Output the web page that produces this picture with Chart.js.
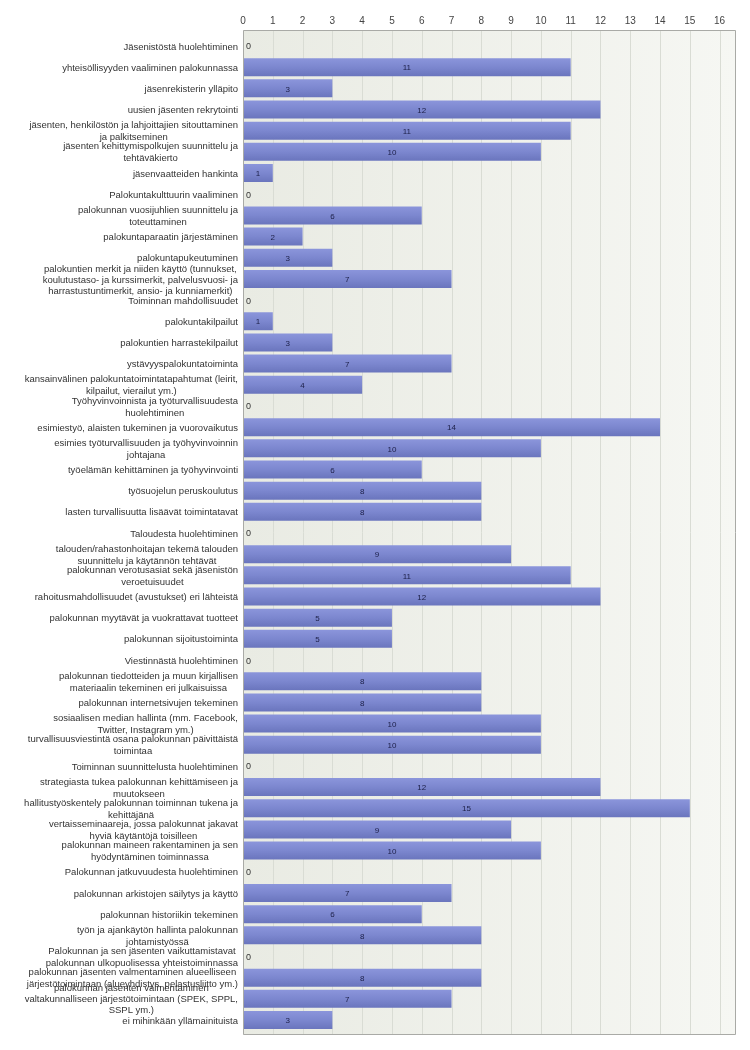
<!DOCTYPE html>
<html><head><meta charset="utf-8">
<script src="https://cdn.jsdelivr.net/npm/chart.js@4.4.1/dist/chart.umd.min.js"></script>
<style>html,body{margin:0;padding:0;background:#fff}#wrap{width:750px;height:1050px;position:relative}</style>
</head><body><div id="wrap"><canvas id="c"></canvas></div>
<script>
const categories = [
  "Jäsenistöstä huolehtiminen",
  "yhteisöllisyyden vaaliminen palokunnassa",
  "jäsenrekisterin ylläpito",
  "uusien jäsenten rekrytointi",
  ["jäsenten, henkilöstön ja lahjoittajien sitouttaminen", "ja palkitseminen"],
  ["jäsenten kehittymispolkujen suunnittelu ja", "tehtäväkierto"],
  "jäsenvaatteiden hankinta",
  "Palokuntakulttuurin vaaliminen",
  ["palokunnan vuosijuhlien suunnittelu ja", "toteuttaminen"],
  "palokuntaparaatin järjestäminen",
  "palokuntapukeutuminen",
  ["palokuntien merkit ja niiden käyttö (tunnukset,", "koulutustaso- ja kurssimerkit, palvelusvuosi- ja", "harrastustuntimerkit, ansio- ja kunniamerkit)"],
  "Toiminnan mahdollisuudet",
  "palokuntakilpailut",
  "palokuntien harrastekilpailut",
  "ystävyyspalokuntatoiminta",
  ["kansainvälinen palokuntatoimintatapahtumat (leirit,", "kilpailut, vierailut ym.)"],
  ["Työhyvinvoinnista ja työturvallisuudesta", "huolehtiminen"],
  "esimiestyö, alaisten tukeminen ja vuorovaikutus",
  ["esimies työturvallisuuden ja työhyvinvoinnin", "johtajana"],
  "työelämän kehittäminen ja työhyvinvointi",
  "työsuojelun peruskoulutus",
  "lasten turvallisuutta lisäävät toimintatavat",
  "Taloudesta huolehtiminen",
  ["talouden/rahastonhoitajan tekemä talouden", "suunnittelu ja käytännön tehtävät"],
  ["palokunnan verotusasiat sekä jäsenistön", "veroetuisuudet"],
  "rahoitusmahdollisuudet (avustukset) eri lähteistä",
  "palokunnan myytävät ja vuokrattavat tuotteet",
  "palokunnan sijoitustoiminta",
  "Viestinnästä huolehtiminen",
  ["palokunnan tiedotteiden ja muun kirjallisen", "materiaalin tekeminen eri julkaisuissa"],
  "palokunnan internetsivujen tekeminen",
  ["sosiaalisen median hallinta (mm. Facebook,", "Twitter, Instagram ym.)"],
  ["turvallisuusviestintä osana palokunnan päivittäistä", "toimintaa"],
  "Toiminnan suunnittelusta huolehtiminen",
  ["strategiasta tukea palokunnan kehittämiseen ja", "muutokseen"],
  ["hallitustyöskentely palokunnan toiminnan tukena ja", "kehittäjänä"],
  ["vertaisseminaareja, jossa palokunnat jakavat", "hyviä käytäntöjä toisilleen"],
  ["palokunnan maineen rakentaminen ja sen", "hyödyntäminen toiminnassa"],
  "Palokunnan jatkuvuudesta huolehtiminen",
  "palokunnan arkistojen säilytys ja käyttö",
  "palokunnan historiikin tekeminen",
  ["työn ja ajankäytön hallinta palokunnan", "johtamistyössä"],
  ["Palokunnan ja sen jäsenten vaikuttamistavat", "palokunnan ulkopuolisessa yhteistoiminnassa"],
  ["palokunnan jäsenten valmentaminen alueelliseen", "järjestötoimintaan (alueyhdistys, pelastusliitto ym.)"],
  ["palokunnan jäsenten valmentaminen", "valtakunnalliseen järjestötoimintaan (SPEK, SPPL,", "SSPL ym.)"],
  "ei mihinkään yllämainituista"
];
const values = [
  0, 11, 3, 12, 11, 10, 1,
  0, 6, 2, 3, 7,
  0, 1, 3, 7, 4,
  0, 14, 10, 6, 8, 8,
  0, 9, 11, 12, 5, 5,
  0, 8, 8, 10, 10,
  0, 12, 15, 9, 10,
  0, 7, 6, 8,
  0, 8, 7, 3
];
const tickLabels = ["0","1","2","3","4","5","6","7","8","9","10","11","12","13","14","15","16"];

const FONT = "'Liberation Sans', Arial, sans-serif";
const PAD_TOP = 5.4, PAD_BOTTOM = 4.4;
const BAR_PCT = 0.85;

function barGradient(ctx) {
  const chart = ctx.chart;
  const y = chart.scales.y;
  if (!y || !chart.chartArea) return '#7c87cf';
  const yc = y.getPixelForValue(ctx.dataIndex);
  const h = Math.abs(y.getPixelForValue(1) - y.getPixelForValue(0)) * BAR_PCT;
  const g = chart.ctx.createLinearGradient(0, yc - h / 2, 0, yc + h / 2);
  g.addColorStop(0, '#8b95db');
  g.addColorStop(0.5, '#7c87cf');
  g.addColorStop(1, '#6a75bd');
  return g;
}

const decor = {
  id: 'decor',
  beforeDatasetsDraw(chart) {
    const { ctx, chartArea: a, scales: { x } } = chart;
    const top = a.top - PAD_TOP, bottom = a.bottom + PAD_BOTTOM;
    ctx.save();
    const bg = ctx.createLinearGradient(a.left, 0, a.right, 0);
    bg.addColorStop(0, '#e9ebe3');
    bg.addColorStop(1, '#f6f7f3');
    ctx.fillStyle = bg;
    ctx.fillRect(a.left, top, a.right - a.left, bottom - top);
    ctx.strokeStyle = '#d9dcd4';
    ctx.lineWidth = 1;
    x.ticks.forEach(t => {
      if (t.value === 0) return;
      const px = Math.round(x.getPixelForValue(t.value)) + 0.5;
      ctx.beginPath(); ctx.moveTo(px, top); ctx.lineTo(px, bottom); ctx.stroke();
    });
    ctx.restore();
  },
  afterDatasetsDraw(chart) {
    const { ctx, chartArea: a, scales: { y } } = chart;
    const top = a.top - PAD_TOP, bottom = a.bottom + PAD_BOTTOM;
    ctx.save();
    ctx.strokeStyle = '#a9aaa6';
    ctx.lineWidth = 1;
    const l = Math.round(a.left) + 0.5, r = Math.round(a.right) - 0.5;
    const t = Math.round(top) + 0.5, b = Math.round(bottom) - 0.5;
    ctx.beginPath();
    ctx.moveTo(l, t); ctx.lineTo(r, t); ctx.lineTo(r, b); ctx.lineTo(l, b); ctx.closePath();
    ctx.stroke();
    const meta = chart.getDatasetMeta(0);
    ctx.textBaseline = 'middle';
    meta.data.forEach((bar, i) => {
      const v = values[i];
      if (v === 0) {
        ctx.font = "9px " + FONT;
        ctx.fillStyle = '#333333';
        ctx.textAlign = 'left';
        ctx.fillText('0', bar.base + 3, bar.y + 1);
      } else {
        ctx.font = "8px " + FONT;
        ctx.fillStyle = '#1c1f47';
        ctx.textAlign = 'center';
        ctx.fillText(String(v), (bar.base + bar.x) / 2, bar.y + 1);
      }
    });
    ctx.font = "9.5px " + FONT;
    ctx.fillStyle = '#333333';
    ctx.textAlign = 'center';
    const rightEdge = a.left - 5;
    categories.forEach((c, i) => {
      const lines = Array.isArray(c) ? c : [c];
      const lh = lines.length > 2 ? 11 : 12;
      const w = Math.max(...lines.map(s => ctx.measureText(s).width));
      const cx = rightEdge - w / 2;
      const yc = y.getPixelForValue(i) + 1;
      lines.forEach((s, k) => {
        ctx.fillText(s, cx, yc + (k - (lines.length - 1) / 2) * lh);
      });
    });
    ctx.restore();
  }
};

new Chart(document.getElementById('c'), {
  type: 'bar',
  data: {
    labels: categories.map(c => Array.isArray(c) ? c.join(' ') : c),
    datasets: [{
      data: values,
      backgroundColor: barGradient,
      borderWidth: 0,
      barPercentage: BAR_PCT,
      categoryPercentage: 1.0
    }]
  },
  options: {
    indexAxis: 'y',
    responsive: true,
    maintainAspectRatio: false,
    animation: false,
    layout: { padding: { top: 0, right: 14, bottom: 19.4, left: 0 } },
    plugins: { legend: { display: false }, tooltip: { enabled: false } },
    scales: {
      x: {
        type: 'linear',
        position: 'top',
        min: 0,
        max: 16.55,
        afterBuildTicks: s => { s.ticks = tickLabels.map((_, i) => ({ value: i })); },
        ticks: {
          autoSkip: false,
          padding: 8,
          color: '#444444',
          font: { family: FONT, size: 10 },
          callback: (v, i) => tickLabels[i]
        },
        grid: { display: false, drawTicks: false },
        border: { display: false },
        afterFit: s => { s.height = 35.4; }
      },
      y: {
        type: 'category',
        offset: true,
        ticks: { display: false },
        grid: { display: false, drawTicks: false },
        border: { display: false },
        afterFit: s => { s.width = 243; }
      }
    }
  },
  plugins: [decor]
});
</script>
</body></html>
